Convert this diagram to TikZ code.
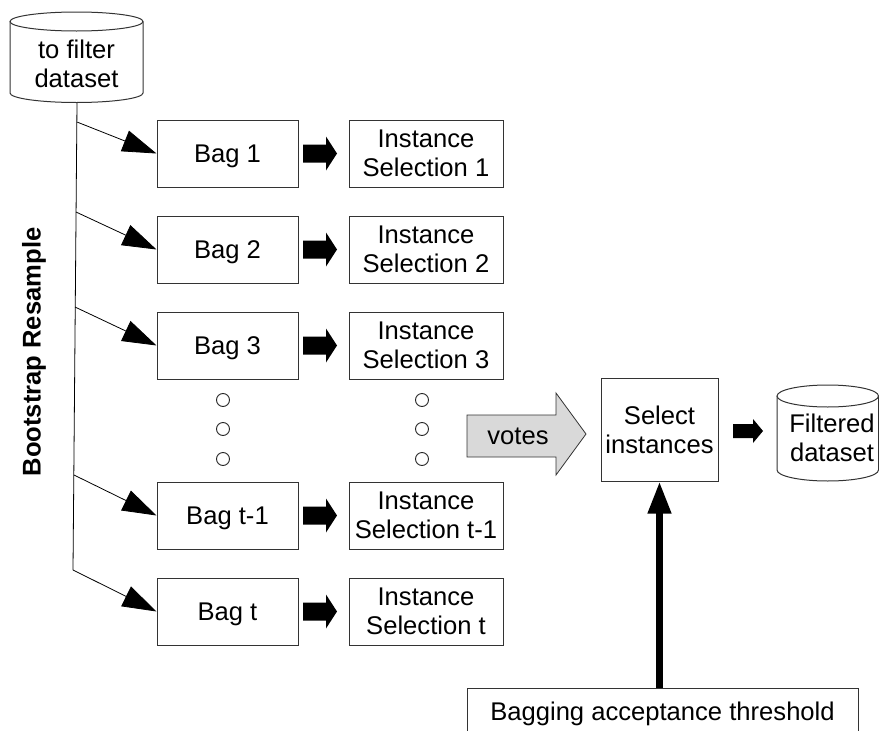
\documentclass[tikz,border=0pt]{standalone}
\usepackage{fontspec}
\setmainfont{Liberation Sans}
\usetikzlibrary{arrows.meta}
\begin{document}
\begin{tikzpicture}[x=1pt,y=-1pt,
  every node/.style={font=\fontsize{25.6}{28.8}\selectfont, inner sep=0pt},
  boxst/.style={draw=black!80, line width=1pt, minimum width=141pt, minimum height=67pt, align=center},
  bagst/.style={boxst, text height=18.5pt, text depth=0pt},
  selst/.style={boxst, minimum width=154pt},
  branch/.style={line width=0.8pt, -{Triangle[length=34pt,width=22pt]}},
  dotst/.style={draw=black!85, line width=0.9pt},
  cylst/.style={draw=black!80, line width=1pt, fill=white},
  blockarr/.pic={\fill (0,-9)--(23,-9)--(23,-17)--(34,0)--(23,17)--(23,9)--(0,9)--cycle;},
  smallarr/.pic={\fill (0,-7)--(20,-7)--(20,-12)--(30,0)--(20,12)--(20,7)--(0,7)--cycle;},
]
\path[use as bounding box] (0,0) rectangle (879,731);
\clip (0,0) rectangle (879,731);

% source cylinder
\draw[cylst] (10,21.5) -- (10,93) arc[start angle=180,end angle=0,x radius=66.5,y radius=9.5] -- (143,21.5);
\draw[cylst] (76.5,21.5) ellipse[x radius=66.5,y radius=9.5];
\node[align=center] (src) at (76.5,63.5) {to filter\\dataset};
\coordinate (srcbot) at (77,103);
\coordinate (tend) at (73,570);
\draw[line width=0.8pt] (srcbot) -- (tend);
\coordinate (s1) at (77,122);
\coordinate (s2) at (76,212);
\coordinate (s3) at (75,307);
\coordinate (s4) at (74,475);

% bags
\node[bagst] (bag1) at (227.5,153.5) {Bag 1};
\node[bagst] (bag2) at (227.5,249.5) {Bag 2};
\node[bagst] (bag3) at (227.5,345.5) {Bag 3};
\node[bagst] (bag4) at (227.5,515.5) {Bag t-1};
\node[bagst] (bag5) at (227.5,611.5) {Bag t};

\draw[branch] (s1) -- (bag1.west);
\draw[branch] (s2) -- (bag2.west);
\draw[branch] (s3) -- (bag3.west);
\draw[branch] (s4) -- (bag4.west);
\draw[branch] (tend) -- (bag5.west);

% instance selections
\node[selst] (sel1) at (426,153.5) {Instance\\Selection 1};
\node[selst] (sel2) at (426,249.5) {Instance\\Selection 2};
\node[selst] (sel3) at (426,345.5) {Instance\\Selection 3};
\node[selst] (sel4) at (426,515.5) {Instance\\Selection t-1};
\node[selst] (sel5) at (426,611.5) {Instance\\Selection t};

\pic at (303,153.5) {blockarr};
\pic at (303,249.5) {blockarr};
\pic at (303,345.5) {blockarr};
\pic at (303,515.5) {blockarr};
\pic at (303,611.5) {blockarr};

% dots
\foreach \yy in {400,429,459} {
  \draw[dotst] (223,\yy) circle[radius=6.5pt];
  \draw[dotst] (422,\yy) circle[radius=6.5pt];
}

% votes arrow
\draw[fill=black!15, draw=black!80, line width=0.8pt] (467,415)--(556,415)--(556,393)--(586,434)--(556,475)--(556,457)--(467,457)--cycle;
\node (votes) at (518,436) {votes};

% select instances
\node[boxst, minimum width=117pt, minimum height=103pt] (selinst) at (659.5,429.5) {Select\\instances};
\pic at (733,431) {smallarr};

% filtered cylinder
\draw[cylst] (777,396) -- (777,470) arc[start angle=180,end angle=0,x radius=50.75,y radius=11] -- (878.5,396);
\draw[cylst] (827.75,396) ellipse[x radius=50.75,y radius=11];
\node[align=center] (filt) at (832,438) {Filtered\\dataset};

% threshold
\node[draw=black!80, line width=1pt, minimum width=391pt, minimum height=60pt, anchor=north west] (thrbox) at (467,688) {};
\node[anchor=base] (thrtext) at (662.5,720) {Bagging acceptance threshold};
\draw[line width=7pt, -{Triangle[length=32pt,width=22pt]}] (selinst.south |- thrbox.north) -- (selinst.south);

% side label
\node[rotate=90, font=\fontsize{25.6}{28.8}\selectfont\bfseries] (boot) at (34,352) {Bootstrap Resample};
\end{tikzpicture}
\end{document}
